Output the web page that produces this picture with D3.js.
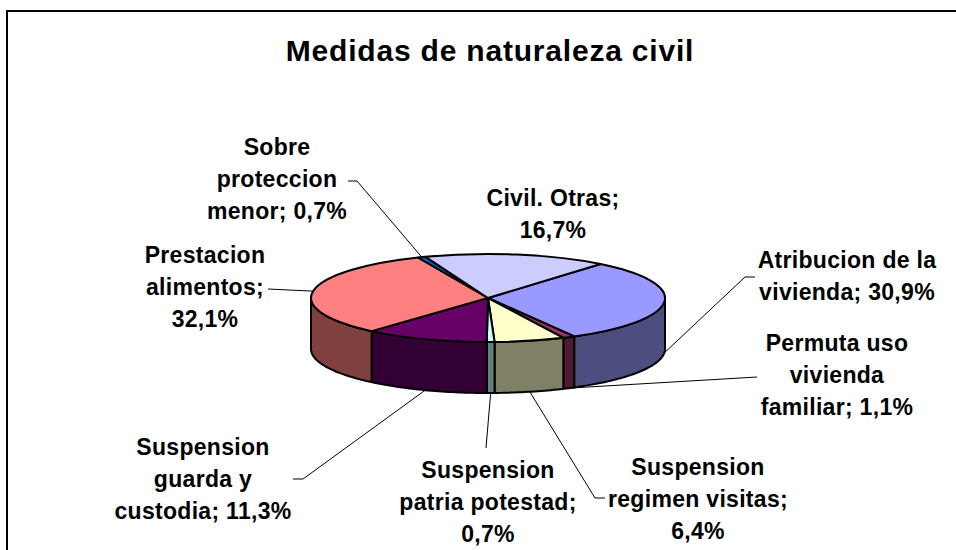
<!DOCTYPE html>
<html>
<head>
<meta charset="utf-8">
<script src="https://cdn.jsdelivr.net/npm/d3@7"></script>
<style>
  html, body { margin: 0; padding: 0; background: #fff; }
  text { font-family: Arial, "Liberation Sans", sans-serif; font-weight: bold; fill: #000; }
</style>
</head>
<body>
<svg id="chart" width="956" height="550"></svg>
<script>
// data, in the order of the sheet (clockwise from the start angle)
const categories = [
    'Atribucion de la vivienda',
    'Permuta uso vivienda familiar',
    'Suspension regimen visitas',
    'Suspension patria potestad',
    'Suspension guarda y custodia',
    'Prestacion alimentos',
    'Sobre proteccion menor',
    'Civil. Otras'
];
const values = [30.9, 1.1, 6.4, 0.7, 11.3, 32.1, 0.7, 16.7];
const topColours = ['#9999FF', '#993366', '#FFFFCC', '#CCFFFF', '#660066', '#FF8080', '#0066CC', '#CCCCFF'];
// words per line when the label wraps
const wordsPerLine = [[3, 2], [2, 1, 2], [1, 2, 1], [1, 2, 1], [1, 2, 2], [1, 1, 1], [1, 1, 2], [2, 1]];

const title = 'Medidas de naturaleza civil';

// layout
const width = 956;
const height = 550;
const cx = 488;
const cy = 298;
const rx = 177;
const ry = 44;
const depth = 51;
const startAngle = 39.5 * Math.PI / 180;
const lineHeight = 32;

// label block: centre x, first baseline, leader start points (label side)
const labelLayout = [
    { x: 847, y: 268, leader: [[755, 277], [745, 277]] },
    { x: 837, y: 351, leader: [[757, 377]] },
    { x: 698, y: 475, leader: [[605, 498], [595, 498]] },
    { x: 488, y: 478, leader: [[486, 448]] },
    { x: 203, y: 455, leader: [[293, 479], [303, 479]] },
    { x: 205, y: 263, leader: [[268, 289]] },
    { x: 277, y: 155, leader: [[348, 181], [357, 181]] },
    { x: 553, y: 206, leader: null }
];

const svg = d3.select('#chart');

// chart area frame (runs off the bottom/right of the picture)
svg.append('rect')
    .attr('x', 7)
    .attr('y', 11)
    .attr('width', width + 40)
    .attr('height', height + 40)
    .attr('fill', '#fff')
    .attr('stroke', '#000')
    .attr('stroke-width', 2);

svg.append('text')
    .attr('x', 490)
    .attr('y', 61)
    .attr('text-anchor', 'middle')
    .attr('font-size', 30)
    .attr('letter-spacing', 0.8)
    .text(title);

const pie = d3.pie()
    .sort(null)
    .value(d => d)
    .startAngle(startAngle)
    .endAngle(startAngle + 2 * Math.PI);

const slices = pie(values).map((s, i) => ({ ...s, i }));

const px = a => cx + rx * Math.sin(a);
const py = a => cy - ry * Math.cos(a);

function sidePoints(a0, a1) {
    const n = Math.max(2, Math.ceil((a1 - a0) / 0.02));
    const top = d3.range(n + 1).map(k => a0 + (a1 - a0) * k / n);
    const pts = top.map(a => [px(a), py(a)]);
    top.slice().reverse().forEach(a => pts.push([px(a), py(a) + depth]));
    return pts;
}

// front walls: only the part of each slice between 90 and 270 degrees shows
const walls = [];
slices.forEach(s => {
    [0, 2 * Math.PI].forEach(shift => {
        const a0 = Math.max(s.startAngle - shift, Math.PI / 2);
        const a1 = Math.min(s.endAngle - shift, 3 * Math.PI / 2);
        if (a1 > a0) walls.push({ i: s.i, pts: sidePoints(a0, a1) });
    });
});

const line = d3.line();

svg.append('g')
    .selectAll('path')
    .data(walls)
    .join('path')
    .attr('d', d => line(d.pts) + 'Z')
    .attr('fill', d => {
        const c = d3.rgb(topColours[d.i]);
        return d3.rgb(c.r * 0.5, c.g * 0.5, c.b * 0.5);
    })
    .attr('stroke', '#000')
    .attr('stroke-width', 2)
    .attr('stroke-linejoin', 'round');

const arc = d3.arc().innerRadius(0).outerRadius(rx);

svg.append('g')
    .attr('transform', `translate(${cx},${cy}) scale(1,${ry / rx})`)
    .selectAll('path')
    .data(slices)
    .join('path')
    .attr('d', arc)
    .attr('fill', d => topColours[d.i])
    .attr('stroke', '#000')
    .attr('stroke-width', 2)
    .attr('stroke-linejoin', 'round')
    .attr('vector-effect', 'non-scaling-stroke');

// leader lines: front slices attach at the bottom edge, back ones at the top edge
const fmt = v => d3.format('.1f')(v).replace('.', ',') + '%';

const leaders = svg.append('g');
const labels = svg.append('g');

slices.forEach(s => {
    const lay = labelLayout[s.i];
    const mid = (s.startAngle + s.endAngle) / 2;
    const front = Math.cos(mid) < 0;
    const anchor = [px(mid), py(mid) + (front ? depth : 0)];

    if (lay.leader) {
        leaders.append('path')
            .attr('d', line(lay.leader.concat([anchor])))
            .attr('fill', 'none')
            .attr('stroke', '#000')
            .attr('stroke-width', 1);
    }

    const words = (categories[s.i] + '; ' + fmt(values[s.i])).split(' ');
    let k = 0;
    const rows = wordsPerLine[s.i].map(n => {
        const row = words.slice(k, k + n).join(' ');
        k += n;
        return row;
    });

    labels.append('text')
        .attr('text-anchor', 'middle')
        .attr('font-size', 23)
        .attr('letter-spacing', 0.3)
        .selectAll('tspan')
        .data(rows)
        .join('tspan')
        .attr('x', lay.x)
        .attr('y', (d, j) => lay.y + j * lineHeight)
        .text(d => d);
});
</script>
</body>
</html>
